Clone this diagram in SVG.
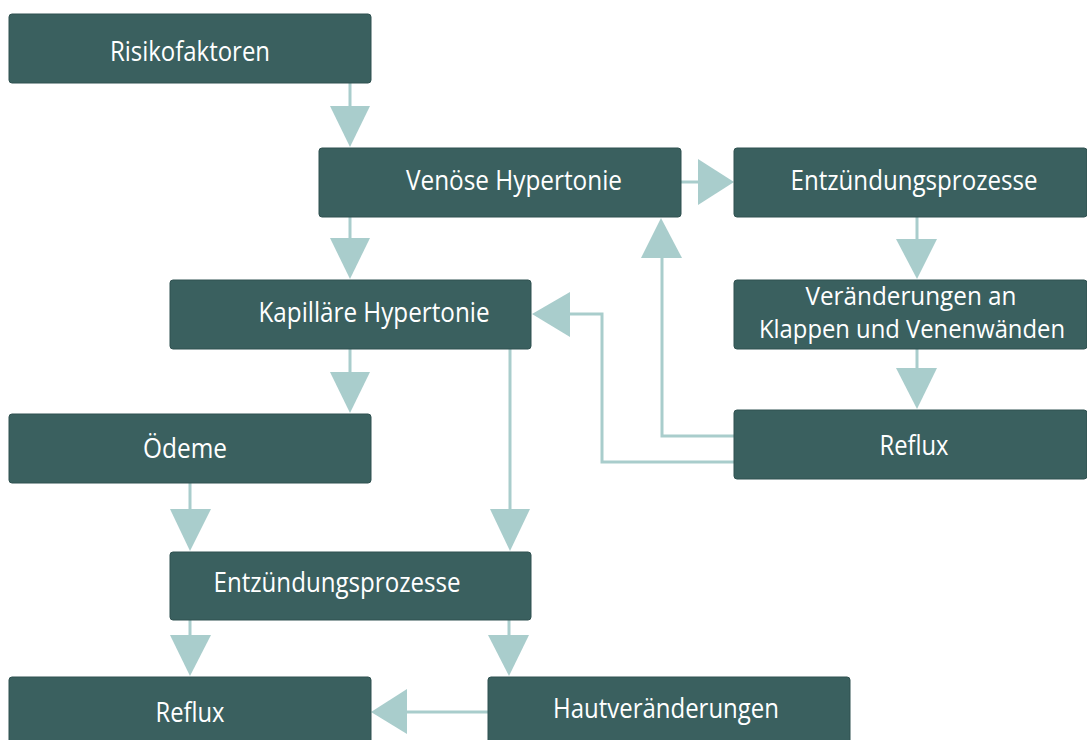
<svg xmlns="http://www.w3.org/2000/svg" width="1087" height="740" viewBox="0 0 1087 740">
<style>
.box{fill:#3A605F;stroke:#2F5150;stroke-width:1}
.t{font-family:"Open Sans","Noto Sans",sans-serif;font-size:27px;fill:#FFFFFF;text-anchor:middle}
.t2{font-size:25px}
.ln{fill:none;stroke:#A9CDCC;stroke-width:3}
.ah{fill:#A9CDCC}
</style>
<rect width="1087" height="740" fill="#FFFFFF"/>
<g id="connectors">
  <path class="ln" d="M350 83V108"/>
  <polygon class="ah" points="330,106 370,106 350,147"/>
  <path class="ln" d="M350 217V240"/>
  <polygon class="ah" points="330,238 370,238 350,279"/>
  <path class="ln" d="M681 182H700"/>
  <polygon class="ah" points="698,159 698,205 734,182"/>
  <path class="ln" d="M917 217V241"/>
  <polygon class="ah" points="896,239 937,239 917,279"/>
  <path class="ln" d="M917 349V370"/>
  <polygon class="ah" points="896,368 937,368 917,409"/>
  <path class="ln" d="M734 436H662V256"/>
  <polygon class="ah" points="641,258 682,258 661,218"/>
  <path class="ln" d="M734 462H602V314H568"/>
  <polygon class="ah" points="570,292 570,337 532,314"/>
  <path class="ln" d="M350 349V374"/>
  <polygon class="ah" points="330,372 370,372 350,413"/>
  <path class="ln" d="M510 349V512"/>
  <polygon class="ah" points="490,509 530,509 510,551"/>
  <path class="ln" d="M190 483V512"/>
  <polygon class="ah" points="170,509 211,509 190,551"/>
  <path class="ln" d="M190 620V637"/>
  <polygon class="ah" points="170,635 211,635 190,676"/>
  <path class="ln" d="M509 620V637"/>
  <polygon class="ah" points="488,635 529,635 509,676"/>
  <path class="ln" d="M488 712H405"/>
  <polygon class="ah" points="407,689 407,734 371,712"/>
</g>
<g id="n-risikofaktoren">
  <rect class="box" x="9" y="14" width="362" height="69" rx="3"/>
  <text class="t" x="190" y="61" textLength="160" lengthAdjust="spacingAndGlyphs">Risikofaktoren</text>
</g>
<g id="n-venoese-hypertonie">
  <rect class="box" x="319" y="148" width="362" height="69" rx="3"/>
  <text class="t" x="514" y="190" textLength="216" lengthAdjust="spacingAndGlyphs">Venöse Hypertonie</text>
</g>
<g id="n-entzuendung-rechts">
  <rect class="box" x="734" y="148" width="353" height="69" rx="3"/>
  <text class="t" x="914" y="190" textLength="247" lengthAdjust="spacingAndGlyphs">Entzündungsprozesse</text>
</g>
<g id="n-veraenderungen">
  <rect class="box" x="734" y="280" width="353" height="69" rx="3"/>
  <text class="t t2" x="911" y="305" textLength="211" lengthAdjust="spacingAndGlyphs">Veränderungen an</text>
  <text class="t t2" x="912" y="338" textLength="306" lengthAdjust="spacingAndGlyphs">Klappen und Venenwänden</text>
</g>
<g id="n-reflux-rechts">
  <rect class="box" x="734" y="410" width="353" height="69" rx="3"/>
  <text class="t" x="914" y="455" textLength="69" lengthAdjust="spacingAndGlyphs">Reflux</text>
</g>
<g id="n-kapillaere-hypertonie">
  <rect class="box" x="170" y="280" width="361" height="69" rx="3"/>
  <text class="t" x="374" y="322" textLength="231" lengthAdjust="spacingAndGlyphs">Kapilläre Hypertonie</text>
</g>
<g id="n-oedeme">
  <rect class="box" x="9" y="414" width="362" height="69" rx="3"/>
  <text class="t" x="185" y="458" textLength="84" lengthAdjust="spacingAndGlyphs">Ödeme</text>
</g>
<g id="n-entzuendung-unten">
  <rect class="box" x="170" y="552" width="361" height="68" rx="3"/>
  <text class="t" x="337" y="592" textLength="247" lengthAdjust="spacingAndGlyphs">Entzündungsprozesse</text>
</g>
<g id="n-reflux-unten">
  <rect class="box" x="9" y="677" width="362" height="70" rx="3"/>
  <text class="t" x="190" y="722" textLength="69" lengthAdjust="spacingAndGlyphs">Reflux</text>
</g>
<g id="n-hautveraenderungen">
  <rect class="box" x="488" y="677" width="362" height="70" rx="3"/>
  <text class="t" x="666" y="718" textLength="226" lengthAdjust="spacingAndGlyphs">Hautveränderungen</text>
</g>
</svg>
